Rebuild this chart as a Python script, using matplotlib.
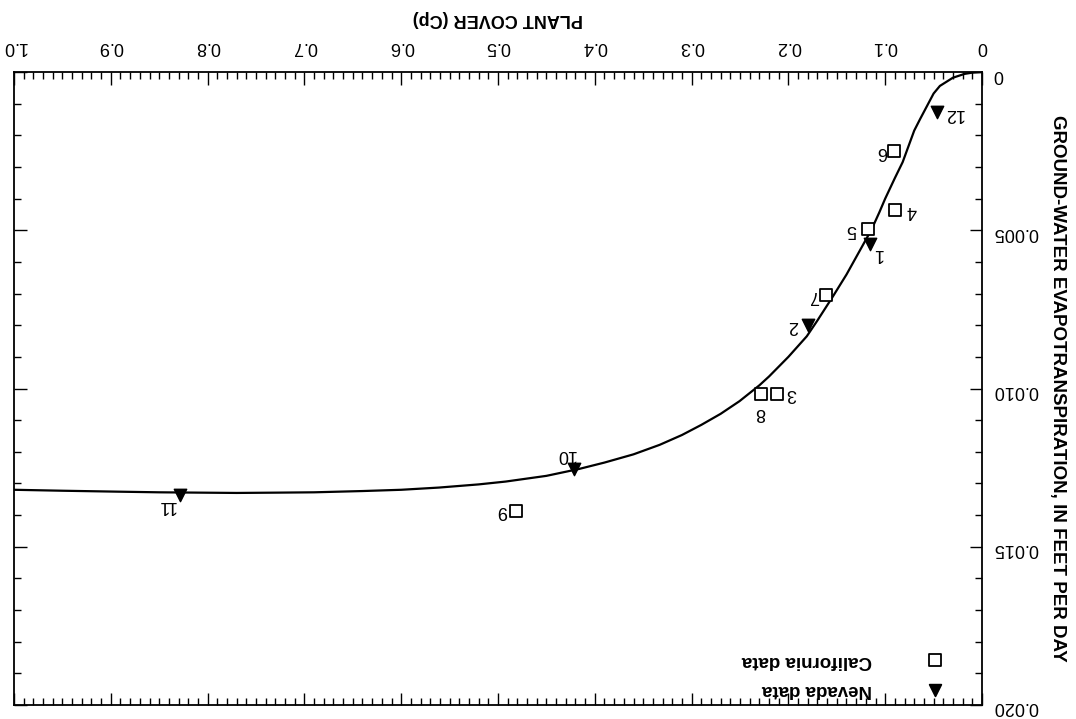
"""Plant cover vs ground-water evapotranspiration (figure shown rotated 180 degrees)."""

import matplotlib
matplotlib.use("Agg")
import matplotlib.pyplot as plt
from matplotlib.ticker import MultipleLocator, FixedLocator

plt.rcParams["font.family"] = ["Liberation Sans", "DejaVu Sans"]

# ── Data ───────────────────────────────────────────────────────────────────────

curve_cp = [0.0, 0.010, 0.018, 0.030, 0.0435, 0.050, 0.064, 0.070, 0.082,
            0.090, 0.100, 0.106, 0.114, 0.130, 0.140, 0.154, 0.170, 0.181,
            0.200, 0.220, 0.230, 0.2505, 0.270, 0.290, 0.310, 0.333, 0.360,
            0.390, 0.416, 0.450, 0.492, 0.520, 0.561, 0.600, 0.640, 0.690,
            0.727, 0.770, 0.810, 0.850, 0.892, 0.950, 1.0]
curve_et = [0.0, 0.00002, 0.00006, 0.00018, 0.00044, 0.00068, 0.00149,
            0.00185, 0.00285, 0.00335, 0.00400, 0.00443, 0.00497, 0.00585,
            0.00640, 0.00709, 0.00785, 0.00835, 0.00900, 0.00962, 0.00990,
            0.01040, 0.01080, 0.01115, 0.01147, 0.01178, 0.01208, 0.01234,
            0.01254, 0.01276, 0.01294, 0.01303, 0.01313, 0.01320, 0.01324,
            0.01328, 0.01329, 0.01330, 0.01329, 0.01328, 0.01326, 0.01323,
            0.01320]

ca_ids = ["3", "4", "5", "6", "7", "8", "9"]
ca_cp  = [0.212, 0.090, 0.118, 0.091, 0.161, 0.228, 0.481]
ca_et  = [0.01016, 0.00437, 0.00497, 0.00250, 0.00706, 0.01016, 0.01386]

nv_ids = ["1", "2", "10", "11", "12"]
nv_cp  = [0.116, 0.180, 0.421, 0.829, 0.047]
nv_et  = [0.00544, 0.00800, 0.01253, 0.01335, 0.00127]

x_ticks  = [0.0, 0.1, 0.2, 0.3, 0.4, 0.5, 0.6, 0.7, 0.8, 0.9, 1.0]
x_labels = ["0", "0.1", "0.2", "0.3", "0.4", "0.5", "0.6", "0.7", "0.8", "0.9", "1.0"]
y_ticks  = [0.0, 0.005, 0.010, 0.015, 0.020]
y_labels = ["0", "0.005", "0.010", "0.015", "0.020"]

# label offsets (pixels) for each numbered point
ca_off = {"3": (15, 0), "4": (17, 0), "5": (-16, 0), "6": (-12, 0),
          "7": (-12, 0), "8": (-1, -19), "9": (-14, 0)}
nv_off = {"1": (8, -9), "2": (-15, 0), "10": (-9, 14), "11": (-13, -11),
          "12": (17, -1)}

# ── Figure ─────────────────────────────────────────────────────────────────────

W, H = 1076, 719
fig = plt.figure(figsize=(W / 100, H / 100), dpi=100)
ax = fig.add_axes([14 / W, 14 / H, 968 / W, 633 / H])

ax.plot(curve_cp, curve_et, color="black", lw=1.6, zorder=2)
ax.scatter(ca_cp, ca_et, marker="s", s=70, facecolor="white",
           edgecolor="black", linewidth=1.3, zorder=3)
ax.scatter(nv_cp, nv_et, marker="v", s=80, color="black", zorder=3)

for lab, x, y in zip(ca_ids, ca_cp, ca_et):
    ax.annotate(lab, (x, y), xytext=ca_off[lab], textcoords="offset pixels",
                rotation=180, ha="center", va="center", fontsize=13)
for lab, x, y in zip(nv_ids, nv_cp, nv_et):
    ax.annotate(lab, (x, y), xytext=nv_off[lab], textcoords="offset pixels",
                rotation=180, ha="center", va="center", fontsize=13)

# axes: rotated 180 degrees, so x runs right-to-left on top, y top-to-bottom on right
ax.set_xlim(1.0, 0.0)
ax.set_ylim(0.020, 0.0)
ax.xaxis.tick_top()
ax.xaxis.set_label_position("top")
ax.yaxis.tick_right()
ax.yaxis.set_label_position("right")

ax.xaxis.set_major_locator(FixedLocator(x_ticks))
ax.set_xticklabels(x_labels)
ax.xaxis.set_minor_locator(MultipleLocator(0.01))
ax.yaxis.set_major_locator(FixedLocator(y_ticks))
ax.set_yticklabels(y_labels)
ax.yaxis.set_minor_locator(MultipleLocator(0.001))

ax.tick_params(which="both", direction="in", top=True, bottom=True,
               left=True, right=True, width=1.0, colors="black")
ax.tick_params(which="major", length=9)
ax.tick_params(which="minor", length=5)
ax.tick_params(axis="x", which="major", pad=12, labelsize=13)
ax.tick_params(axis="y", which="major", pad=8, labelsize=13)
plt.setp(ax.get_xticklabels(), rotation=180)
plt.setp(ax.get_yticklabels(), rotation=180)

for s in ax.spines.values():
    s.set_linewidth(1.3)

ax.set_xlabel("PLANT COVER (Cp)", fontsize=13, fontweight="bold",
              rotation=180, va="center")
ax.xaxis.set_label_coords(0.5, (705 - 18) / 633)
ax.set_ylabel("GROUND-WATER EVAPOTRANSPIRATION, IN FEET PER DAY",
              fontsize=13.5, fontweight="bold", rotation=270, va="center")
ax.yaxis.set_label_coords((1058 - 14) / 968, 0.5)

# legend, drawn by hand so the text can be upside down
leg = [("California data", "s", "white", 0.071), ("Nevada data", "v", "black", 0.024)]
for text, mk, fc, yy in leg:
    ax.scatter([0.951], [yy], transform=ax.transAxes, marker=mk, s=70,
               facecolor=fc, edgecolor="black", linewidth=1.3, clip_on=False)
    ax.text(0.886, yy, text, transform=ax.transAxes, rotation=180,
            ha="right", va="center", fontsize=13.5, fontweight="bold")

fig.savefig("out.png", dpi=100)
